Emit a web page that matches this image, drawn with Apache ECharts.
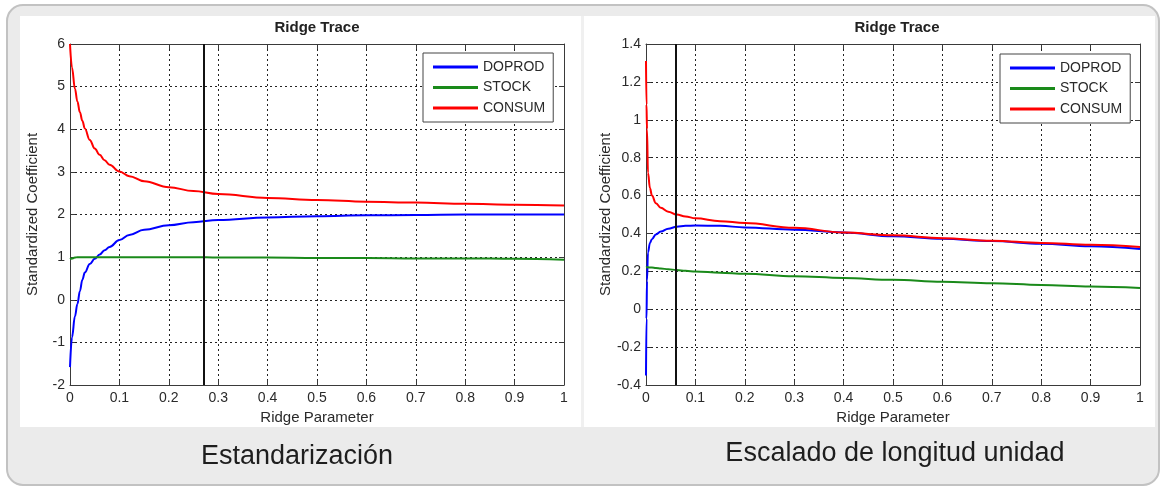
<!DOCTYPE html>
<html>
<head>
<meta charset="utf-8">
<script src="https://cdn.jsdelivr.net/npm/echarts@6/dist/echarts.min.js"></script>
<style>
html,body{margin:0;padding:0;background:#fff;}
#c{width:1166px;height:488px;}
</style>
</head>
<body>
<div id="c"></div>
<script>
// ---- data ----
const seriesNames = ['DOPROD', 'STOCK', 'CONSUM'];
const panelTitles = ['Ridge Trace', 'Ridge Trace'];
const captions = ['Estandarización', 'Escalado de longitud unidad'];
const xAxisName = 'Ridge Parameter';
const yAxisName = 'Standardized Coefficient';
const selectedK = [0.273, 0.062];

// Left panel: standardization
const kStd = [0, 0.004, 0.01, 0.015, 0.02, 0.025, 0.03, 0.04, 0.05, 0.06, 0.07, 0.08, 0.1, 0.12, 0.15, 0.2, 0.25, 0.3, 0.4, 0.5, 0.6, 0.7, 0.8, 0.9, 1.0];
const doprodStd = [-1.58, -0.88, -0.39, -0.1, 0.2, 0.47, 0.64, 0.84, 0.96, 1.06, 1.16, 1.24, 1.40, 1.52, 1.64, 1.75, 1.82, 1.87, 1.93, 1.96, 1.98, 1.99, 2.0, 2.0, 2.0];
const stockStd = [0.95, 0.97, 0.99, 1.0, 1.0, 1.0, 1.0, 1.0, 1.0, 1.0, 1.0, 1.0, 1.0, 1.0, 1.0, 1.0, 1.0, 0.99, 0.99, 0.98, 0.98, 0.97, 0.97, 0.96, 0.94];
const consumStd = [6.0, 5.45, 4.95, 4.65, 4.4, 4.2, 4.02, 3.75, 3.55, 3.4, 3.27, 3.17, 3.01, 2.9, 2.78, 2.64, 2.55, 2.48, 2.39, 2.34, 2.30, 2.28, 2.25, 2.23, 2.21];

// Right panel: unit length scaling
const kUnit = [0, 0.001, 0.002, 0.004, 0.008, 0.012, 0.02, 0.03, 0.045, 0.062, 0.08, 0.1, 0.15, 0.2, 0.3, 0.4, 0.5, 0.6, 0.7, 0.8, 0.9, 1.0];
const doprodUnit = [-0.35, -0.05, 0.15, 0.30, 0.35, 0.37, 0.395, 0.41, 0.425, 0.435, 0.44, 0.442, 0.44, 0.432, 0.42, 0.405, 0.385, 0.372, 0.36, 0.345, 0.332, 0.318];
const stockUnit = [0.22, 0.221, 0.221, 0.221, 0.22, 0.22, 0.218, 0.215, 0.211, 0.207, 0.203, 0.199, 0.193, 0.187, 0.174, 0.165, 0.155, 0.145, 0.137, 0.128, 0.12, 0.112];
const consumUnit = [1.31, 1.08, 0.95, 0.72, 0.64, 0.60, 0.56, 0.535, 0.515, 0.50, 0.49, 0.48, 0.465, 0.455, 0.43, 0.405, 0.39, 0.375, 0.362, 0.35, 0.34, 0.328];

// Axis ranges
const xRange = {min: 0, max: 1, interval: 0.1};
const yRangeStd = {min: -2, max: 6, interval: 1};
const yRangeUnit = {min: -0.4, max: 1.4, interval: 0.2};

// ---- styling ----
const FONT = "'Liberation Sans', Arial, Helvetica, sans-serif";
const colors = ['#0000ff', '#1a8a1a', '#ff0000'];
const axisColor = '#3a3a3a';
const labelColor = '#2a2a2a';

const pair = (xs, ys) => xs.map((x, i) => [x, ys[i]]);

function bottomX(grid) {
  return {
    type: 'value', gridIndex: grid, position: 'bottom', ...xRange,
    name: xAxisName, nameLocation: 'middle', nameGap: 21,
    nameTextStyle: {fontFamily: FONT, fontSize: 15, color: labelColor},
    axisLine: {show: true, onZero: false, lineStyle: {color: axisColor, width: 1}},
    axisTick: {show: true, inside: true, length: 5, lineStyle: {color: axisColor}},
    axisLabel: {fontFamily: FONT, fontSize: 14, color: labelColor, margin: 6},
    splitLine: {show: true, lineStyle: {color: '#222', width: 1, type: [2, 3]}}
  };
}
function topX(grid) {
  return {
    type: 'value', gridIndex: grid, position: 'top', ...xRange,
    axisLine: {show: true, onZero: false, lineStyle: {color: axisColor, width: 1}},
    axisTick: {show: true, inside: true, length: 5, lineStyle: {color: axisColor}},
    axisLabel: {show: false}, splitLine: {show: false}
  };
}
function leftY(grid, range) {
  return {
    type: 'value', gridIndex: grid, position: 'left', ...range,
    name: yAxisName, nameLocation: 'middle', nameGap: 30,
    nameTextStyle: {fontFamily: FONT, fontSize: 15, color: labelColor},
    axisLine: {show: true, onZero: false, lineStyle: {color: axisColor, width: 1}},
    axisTick: {show: true, inside: true, length: 5, lineStyle: {color: axisColor}},
    axisLabel: {fontFamily: FONT, fontSize: 14, color: labelColor, margin: 5},
    splitLine: {show: true, lineStyle: {color: '#222', width: 1, type: [2, 3]}}
  };
}
function rightY(grid, range) {
  return {
    type: 'value', gridIndex: grid, position: 'right', ...range,
    axisLine: {show: true, onZero: false, lineStyle: {color: axisColor, width: 1}},
    axisTick: {show: true, inside: true, length: 5, lineStyle: {color: axisColor}},
    axisLabel: {show: false}, splitLine: {show: false}
  };
}
function lineSeries(name, color, data, xi, yi, markK) {
  const s = {
    name, type: 'line', xAxisIndex: xi, yAxisIndex: yi, data,
    smooth: 0.4, smoothMonotone: 'x', showSymbol: false, symbol: 'none',
    color, lineStyle: {color, width: 2}, z: 3
  };
  if (markK !== undefined) {
    s.markLine = {
      symbol: 'none', silent: true, label: {show: false},
      lineStyle: {color: '#111', width: 2, type: 'solid'},
      data: [{xAxis: markK}]
    };
  }
  return s;
}
function legendAt(left, top) {
  return {
    left, top, orient: 'vertical', data: seriesNames, selectedMode: false,
    icon: 'rect', itemWidth: 45, itemHeight: 3, itemGap: 6.5,
    padding: [7, 8, 7, 10],
    borderColor: '#444', borderWidth: 1, backgroundColor: '#fff',
    textStyle: {fontFamily: FONT, fontSize: 14, color: labelColor, lineHeight: 14}
  };
}

const chart = echarts.init(document.getElementById('c'), null, {renderer: 'canvas'});
chart.setOption({
  animation: false,
  backgroundColor: '#ffffff',
  grid: [
    {left: 70, top: 44, width: 494, height: 341, containLabel: false},
    {left: 646, top: 44, width: 494, height: 341, containLabel: false}
  ],
  xAxis: [bottomX(0), topX(0), bottomX(1), topX(1)],
  yAxis: [leftY(0, yRangeStd), rightY(0, yRangeStd), leftY(1, yRangeUnit), rightY(1, yRangeUnit)],
  legend: [legendAt(423, 53), legendAt(1000, 54)],
  series: [
    lineSeries(seriesNames[0], colors[0], pair(kStd, doprodStd), 0, 0, selectedK[0]),
    lineSeries(seriesNames[1], colors[1], pair(kStd, stockStd), 0, 0),
    lineSeries(seriesNames[2], colors[2], pair(kStd, consumStd), 0, 0),
    lineSeries(seriesNames[0], colors[0], pair(kUnit, doprodUnit), 2, 2, selectedK[1]),
    lineSeries(seriesNames[1], colors[1], pair(kUnit, stockUnit), 2, 2),
    lineSeries(seriesNames[2], colors[2], pair(kUnit, consumUnit), 2, 2)
  ],
  graphic: [
    {type: 'rect', z: -30, silent: true,
     shape: {x: 7, y: 5, width: 1152, height: 480, r: 16},
     style: {fill: '#ebebeb', stroke: '#c2c2c2', lineWidth: 2}},
    {type: 'rect', z: -20, silent: true,
     shape: {x: 20, y: 16, width: 1135, height: 411},
     style: {fill: '#ffffff'}},
    {type: 'rect', z: -19, silent: true,
     shape: {x: 581, y: 16, width: 3, height: 411},
     style: {fill: '#f0f0f0'}},
    {type: 'text', x: 317, y: 28, silent: true,
     style: {text: panelTitles[0], font: 'bold 15px ' + FONT, fill: '#222', align: 'center', verticalAlign: 'middle'}},
    {type: 'text', x: 897, y: 28, silent: true,
     style: {text: panelTitles[1], font: 'bold 15px ' + FONT, fill: '#222', align: 'center', verticalAlign: 'middle'}},
    {type: 'text', x: 297, y: 457, silent: true,
     style: {text: captions[0], font: '27px ' + FONT, fill: '#1e1e1e', align: 'center', verticalAlign: 'middle'}},
    {type: 'text', x: 895, y: 454, silent: true,
     style: {text: captions[1], font: '27px ' + FONT, fill: '#1e1e1e', align: 'center', verticalAlign: 'middle'}}
  ]
});
</script>
</body>
</html>
